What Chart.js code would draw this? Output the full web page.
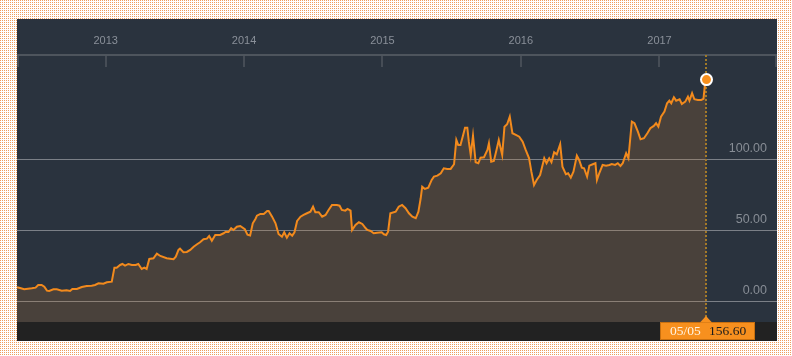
<!DOCTYPE html>
<html><head><meta charset="utf-8">
<script src="https://cdn.jsdelivr.net/npm/chart.js@4.4.1/dist/chart.umd.min.js"></script>
<style>
html,body{margin:0;padding:0;width:792px;height:356px;overflow:hidden;}
body{background-color:#fff;background-image:linear-gradient(90deg,rgba(255,255,255,0) 1px,#fff 1px),linear-gradient(#ef9d5d 1px,#fff 1px);background-size:2px 2px;}
#panel{position:absolute;left:17px;top:19px;width:760px;height:322px;background:#2a333e;}
canvas{display:block;}
</style></head><body>
<div id="panel"><canvas id="c" width="760" height="322"></canvas></div>
<script>
const dates = [
'2012-05-12','2012-05-20','2012-05-31','2012-06-20','2012-06-30','2012-07-07','2012-07-16','2012-07-23','2012-07-30','2012-08-05',
'2012-08-16','2012-08-25','2012-09-07','2012-09-20','2012-09-29','2012-10-05','2012-10-17','2012-10-30','2012-11-12','2012-11-25',
'2012-12-04','2012-12-13','2012-12-26','2013-01-04','2013-01-17','2013-01-24','2013-01-30','2013-02-08','2013-02-14','2013-02-21',
'2013-03-02','2013-03-11','2013-03-21','2013-03-28','2013-04-06','2013-04-13','2013-04-19','2013-04-26','2013-05-07','2013-05-16',
'2013-05-25','2013-06-11','2013-06-20','2013-06-29','2013-07-05','2013-07-12','2013-07-16','2013-07-25','2013-08-03','2013-08-12',
'2013-08-21','2013-08-30','2013-09-07','2013-09-16','2013-09-25','2013-10-01','2013-10-08','2013-10-17','2013-10-30','2013-11-08',
'2013-11-14','2013-11-21','2013-11-28','2013-12-04','2013-12-13','2013-12-22','2014-01-03','2014-01-10','2014-01-17','2014-01-24',
'2014-01-31','2014-02-04','2014-02-13','2014-02-22','2014-03-03','2014-03-07','2014-03-16','2014-03-25','2014-04-02','2014-04-11',
'2014-04-17','2014-04-24','2014-05-01','2014-05-08','2014-05-14','2014-05-21','2014-05-30','2014-06-07','2014-06-16','2014-06-25',
'2014-07-02','2014-07-08','2014-07-17','2014-07-26','2014-08-04','2014-08-12','2014-08-21','2014-09-03','2014-09-10','2014-09-16',
'2014-09-25','2014-10-01','2014-10-09','2014-10-13','2014-10-22','2014-10-31','2014-11-09','2014-11-18','2014-11-22','2014-12-01',
'2014-12-09','2014-12-18','2014-12-30','2015-01-05','2015-01-11','2015-01-16','2015-01-22','2015-02-05','2015-02-13','2015-02-22',
'2015-03-03','2015-03-12','2015-03-21','2015-03-30','2015-04-06','2015-04-12','2015-04-16','2015-04-23','2015-05-02','2015-05-11',
'2015-05-17','2015-05-26','2015-06-04','2015-06-12','2015-06-21','2015-06-30','2015-07-09','2015-07-15','2015-07-20','2015-07-26',
'2015-08-02','2015-08-07','2015-08-13','2015-08-17','2015-08-22','2015-08-28','2015-09-04','2015-09-11','2015-09-17','2015-09-26',
'2015-10-05','2015-10-09','2015-10-15','2015-10-22','2015-10-29','2015-11-04','2015-11-13','2015-11-19','2015-11-26','2015-12-03',
'2015-12-10','2015-12-19','2015-12-28','2016-01-06','2016-01-14','2016-01-23','2016-01-29','2016-02-05','2016-02-12','2016-02-21',
'2016-03-03','2016-03-09','2016-03-16','2016-03-22','2016-03-29','2016-04-05','2016-04-14','2016-04-20','2016-04-29','2016-05-05',
'2016-05-12','2016-05-19','2016-05-28','2016-06-03','2016-06-10','2016-06-16','2016-06-24','2016-06-30','2016-07-09','2016-07-16',
'2016-07-20','2016-07-26','2016-08-04','2016-08-13','2016-08-22','2016-08-28','2016-09-06','2016-09-13','2016-09-20','2016-09-26',
'2016-10-05','2016-10-11','2016-10-20','2016-10-27','2016-11-05','2016-11-12','2016-11-21','2016-11-30','2016-12-08','2016-12-17',
'2016-12-23','2016-12-29','2017-01-05','2017-01-14','2017-01-21','2017-01-27','2017-02-01','2017-02-08','2017-02-14','2017-02-23',
'2017-03-01','2017-03-10','2017-03-17','2017-03-21','2017-03-28','2017-04-03','2017-04-12','2017-04-21','2017-04-27','2017-05-02',
'2017-05-05'
];
const values = [
10.35,9.86,8.94,9.65,10.07,11.97,11.97,10.77,7.96,7.75,
8.94,8.94,7.96,8.24,7.75,9.15,9.15,10.56,11.27,11.48,
11.97,13.17,12.89,13.87,14.30,24.15,24.15,26.06,26.76,25.56,
26.76,26.06,26.06,26.76,23.24,24.15,23.24,30.28,30.77,34.01,
32.39,30.77,30.49,30.07,31.90,36.62,37.53,35.00,35.21,36.62,
38.94,40.63,42.04,44.15,44.58,46.48,43.17,47.18,47.18,48.38,
49.50,49.29,51.90,50.70,53.03,53.52,51.19,47.39,46.83,55.42,
58.45,60.77,61.97,61.97,64.08,64.08,60.07,55.42,47.89,45.98,
49.08,45.28,48.38,46.69,49.08,57.04,60.07,61.27,62.46,63.59,
67.11,63.17,63.17,60.07,61.27,64.79,68.31,68.31,67.81,64.79,
64.29,65.49,64.29,50.70,54.22,56.12,54.93,51.90,50.70,50.00,
48.38,48.80,49.08,47.67,47.18,49.50,62.46,63.59,67.11,68.31,
65.98,62.46,60.07,58.94,63.59,73.03,81.19,79.57,80.49,85.91,
88.24,88.94,90.63,94.15,93.66,93.66,96.97,114.08,110.56,110.56,
117.60,122.74,122.74,112.88,103.52,117.11,98.38,97.67,101.62,101.90,
107.04,111.76,98.80,99.29,107.04,114.08,103.52,123.45,125.14,130.49,
118.80,117.60,116.40,112.88,107.04,101.19,91.76,82.39,85.91,89.43,
101.19,97.67,101.19,98.38,105.42,104.01,111.05,95.28,89.93,90.63,
87.53,91.76,103.03,100.00,94.57,94.15,88.24,95.98,96.97,97.67,
85.91,90.63,96.48,95.98,96.48,97.18,96.48,97.67,95.77,97.67,
104.71,101.19,126.97,125.84,119.93,114.58,115.28,118.80,122.32,123.94,
125.84,123.45,130.49,134.01,139.92,141.75,139.92,144.15,141.75,142.74,
139.43,141.05,144.57,141.75,146.97,142.74,142.25,142.25,143.00,155.80,
156.60
];
const yearTicks = [2013, 2014, 2015, 2016, 2017];
const valueTicks = [0, 50, 100];
const axisStart = '2012-05-12';
const axisEnd = '2017-11-07';
const yMin = -14.1, yMax = 173.9;

const SANS = '"Liberation Sans", Arial, Helvetica, sans-serif';
const SERIF = '"Liberation Serif", "DejaVu Serif", serif';
const lastIdx = values.length - 1;

const deco = {
  id: 'deco',
  beforeDraw(chart) {
    const {ctx, chartArea: a, width, height} = chart;
    ctx.save();
    ctx.fillStyle = '#222222';
    ctx.fillRect(0, a.bottom, width, height - a.bottom);
    ctx.restore();
  },
  beforeDatasetsDraw(chart) {
    const {ctx, chartArea: a} = chart;
    const px = Math.round(chart.scales.x.getPixelForValue(Date.parse(dates[lastIdx])));
    ctx.save();
    ctx.strokeStyle = '#a07a28';
    ctx.lineWidth = 2;
    ctx.setLineDash([2, 2]);
    ctx.beginPath();
    ctx.moveTo(px, a.top);
    ctx.lineTo(px, a.bottom);
    ctx.stroke();
    ctx.restore();
  },
  afterDraw(chart) {
    const {ctx, chartArea: a} = chart;
    const xs = chart.scales.x;
    ctx.save();
    ctx.strokeStyle = '#50575f';
    ctx.lineWidth = 1.5;
    const tx = yearTicks.map(y => Math.round(xs.getPixelForValue(Date.UTC(y, 0, 1))));
    tx.push(a.left + 1, a.right - 1);
    ctx.beginPath();
    tx.forEach(x => { ctx.moveTo(x, a.top); ctx.lineTo(x, a.top + 12); });
    ctx.stroke();
    ctx.restore();
    const px = Math.round(xs.getPixelForValue(Date.parse(dates[lastIdx])));
    const top = a.bottom, h = 18;
    const left = px - 46, right = px + 49;
    ctx.save();
    ctx.fillStyle = '#f7901e';
    ctx.fillRect(left, top, right - left, h);
    ctx.strokeStyle = '#c9700f';
    ctx.lineWidth = 1;
    ctx.strokeRect(left + 0.5, top + 0.5, right - left - 1, h - 1);
    ctx.beginPath();
    ctx.moveTo(px - 6, top + 0.5);
    ctx.lineTo(px, top - 6);
    ctx.lineTo(px + 6, top + 0.5);
    ctx.closePath();
    ctx.fill();
    const d = dates[lastIdx].split('-');
    ctx.font = '13.5px ' + SERIF;
    ctx.textBaseline = 'middle';
    ctx.textAlign = 'left';
    ctx.fillStyle = '#fff3e3';
    ctx.fillText(d[1] + '/' + d[2], px - 36, top + h / 2 + 0.5);
    ctx.fillStyle = '#1c1c1c';
    ctx.fillText(values[lastIdx].toFixed(2), px + 3, top + h / 2 + 0.5);
    ctx.restore();
  }
};

new Chart(document.getElementById('c'), {
  type: 'line',
  data: {
    datasets: [{
      data: dates.map((d, i) => ({x: Date.parse(d), y: values[i]})),
      borderColor: '#f28a1d',
      borderWidth: 2,
      fill: 'start',
      backgroundColor: 'rgba(202,126,52,0.2)',
      tension: 0,
      pointRadius: c => c.dataIndex === lastIdx ? 5.5 : 0,
      pointHoverRadius: c => c.dataIndex === lastIdx ? 5.5 : 0,
      pointBackgroundColor: '#f7901e',
      pointBorderColor: '#ffffff',
      pointBorderWidth: 2
    }]
  },
  options: {
    responsive: false,
    animation: false,
    devicePixelRatio: 1,
    layout: {autoPadding: false, padding: {top: 0, right: 0, bottom: 19, left: 0}},
    plugins: {legend: {display: false}, tooltip: {enabled: false}},
    events: [],
    scales: {
      x: {
        type: 'linear',
        position: 'top',
        min: Date.parse(axisStart),
        max: Date.parse(axisEnd),
        afterFit(s) { s.height = 36; s.paddingLeft = 0; s.paddingRight = 0; },
        afterBuildTicks(s) { s.ticks = yearTicks.map(y => ({value: Date.UTC(y, 0, 1)})); },
        grid: {drawOnChartArea: false, drawTicks: false},
        border: {display: true, color: '#4e555d', width: 2},
        ticks: {
          autoSkip: false, maxRotation: 0, padding: 7, color: '#8a9099',
          font: {family: SANS, size: 11},
          callback: (v, i) => String(yearTicks[i])
        }
      },
      y: {
        position: 'right',
        min: yMin,
        max: yMax,
        afterFit(s) { s.width = 0; s.paddingTop = 0; s.paddingBottom = 0; },
        afterBuildTicks(s) { s.ticks = valueTicks.map(v => ({value: v})); },
        grid: {color: 'rgba(255,255,255,0.38)', lineWidth: 1, drawTicks: false},
        border: {display: false},
        ticks: {
          mirror: true, padding: -10, labelOffset: -11, color: '#878d95',
          font: {family: SANS, size: 12.5},
          callback: v => Number(v).toFixed(2)
        }
      }
    }
  },
  plugins: [deco]
});
</script>
</body></html>
